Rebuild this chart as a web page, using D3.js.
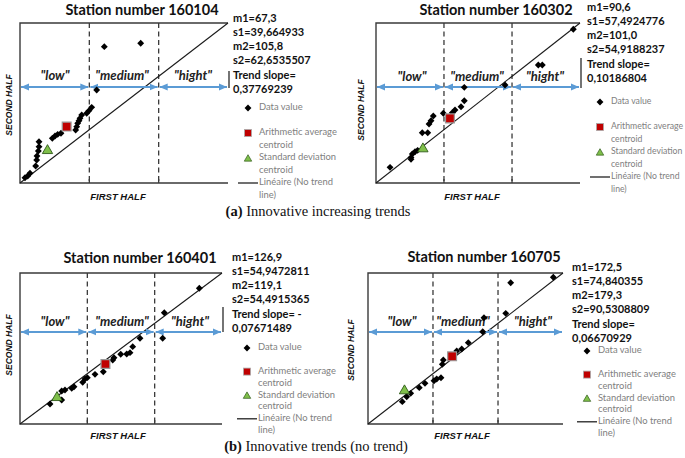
<!DOCTYPE html>
<html><head><meta charset="utf-8">
<script src="https://cdn.jsdelivr.net/npm/d3@7"></script>
<style>body{margin:0;background:#fff}svg{display:block}</style>
</head><body>
<svg id="c" width="685" height="458"></svg>
<script>
// ---------- DATA ----------
const stationTitles = ["Station number 160104","Station number 160302","Station number 160401","Station number 160705"];
const statsA = ["m1=67,3","s1=39,664933","m2=105,8","s2=62,6535507","Trend slope=","0,37769239"];
const statsB = ["m1=90,6","s1=57,4924776","m2=101,0","s2=54,9188237","Trend slope=","0,10186804"];
const statsC = ["m1=126,9","s1=54,9472811","m2=119,1","s2=54,4915365","Trend slope= -","0,07671489"];
const statsD = ["m1=172,5","s1=74,840355","m2=179,3","s2=90,5308809","Trend slope=","0,06670929"];
const zoneLabels = ['"low"','"medium"','"hight"'];
const legendLabels = ["Data value","Arithmetic average","centroid","Standard deviation","centroid","Linéaire (No trend","line)"];
const xAxisTitle = "FIRST HALF";
const yAxisTitle = "SECOND HALF";
const captions = [["(a)"," Innovative increasing trends"],["(b)"," Innovative trends (no trend)"]];

// axis maxima, class boundaries, arrow level
const domainMax = [300, 250, 300, 400];
const boundsA = [100, 200], boundsB = [83.3, 166.7], boundsC = [100, 200], boundsD = [133.3, 266.7];
const arrowLevel = [180, 150, 183, 244];

// centroids [x, y]
const meanA = [67.3, 105.8], sdA = [39.66, 62.65];
const meanB = [90.6, 101.0], sdB = [57.49, 54.92];
const meanC = [126.9, 119.1], sdC = [54.95, 54.49];
const meanD = [172.5, 179.3], sdD = [74.84, 90.53];

// data values [first half, second half]
const pointsA = [[121.6,255.6],[174.1,262],[110.6,174.4],[103.4,141.9],[99.5,135.6],[96.2,130.7],[89,127.5],
 [86.5,121.3],[85.1,116.8],[83.2,111.9],[81.8,105.6],[80.3,99.4],[59.1,93.2],[54.4,91.3],[50.5,88.1],
 [46.6,83.8],[27.4,77.4],[27.4,68.1],[26.4,60],[24.5,50.6],[24.1,43.1],[22.6,31.9],[14.4,18.2],[11.1,13.1],[7.2,9.9]];
const pointsB = [[241.8,240.2],[198.9,184.4],[203.8,184.4],[158.1,153.1],[108.2,149.5],[108.2,128.6],[104.2,119.2],
 [96.8,114.1],[93.5,109.8],[82.5,108.9],[70.2,104.7],[67.4,97.3],[65,92.2],[63.4,78.6],[56.7,78.6],
 [51,51],[47.8,48.9],[44.5,45.3],[42.9,40],[42.9,37],[17.2,24.5]];
const pointsC = [[266.3,269.6],[214.3,221.1],[211.9,170.3],[178.2,170.3],[167.4,153.6],[163.4,141.7],[158.5,139.1],
 [149.6,138.5],[139.6,131.7],[137.7,127.2],[123.7,103.9],[111.4,98.7],[100,92],[96.5,89.4],[93.1,82.8],
 [80.2,74.1],[76.8,70.9],[66.8,67.5],[61.9,65.6],[61.9,47.7],[44.6,39.7]];
const pointsD = [[380.1,388.6],[292.7,374.3],[282.5,293.2],[237.9,281.6],[235.3,244.5],[205.7,215.4],[192.2,198.7],
 [182,193.4],[154.5,169.5],[152.4,158.1],[149.7,122.6],[140.9,119.2],[135.4,114.7],[116.9,107.8],[105.2,96.2],
 [87.6,81.3],[79.4,72.3],[70.4,59.1]];

// ---------- LAYOUT ----------
const panels = [
 {title:stationTitles[0], stats:statsA, pts:pointsA, mean:meanA, sd:sdA, max:domainMax[0], bounds:boundsA, arrow:arrowLevel[0],
  box:{l:20,t:23,r:228,b:183}, titleX:142, titleY:11, statsX:233, statsY:19, legX:248, legY:108, legStep:12.5, legFont:9.4,
  labX:[55,122,193], labY:77, yLabX:10, yLabY:105, xLabX:118, xLabY:197, rSeg:[71,88]},
 {title:stationTitles[1], stats:statsB, pts:pointsB, mean:meanB, sd:sdB, max:domainMax[1], bounds:boundsB, arrow:arrowLevel[1],
  box:{l:376,t:23,r:580,b:183}, titleX:496, titleY:11, statsX:587, statsY:8, legX:600, legY:102, legStep:12.5, legFont:8.7,
  labX:[412,477,545], labY:78, yLabX:362, yLabY:110, xLabX:472, xLabY:197, rSeg:[58,88]},
 {title:stationTitles[2], stats:statsC, pts:pointsC, mean:meanC, sd:sdC, max:domainMax[2], bounds:boundsC, arrow:arrowLevel[2],
  box:{l:20,t:273,r:222,b:424}, titleX:140, titleY:259, statsX:232, statsY:258, legX:247, legY:348, legStep:11.8, legFont:9.4,
  labX:[55,122,190], labY:323, yLabX:10, yLabY:345, xLabX:118, xLabY:436, rSeg:[307,332]},
 {title:stationTitles[3], stats:statsD, pts:pointsD, mean:meanD, sd:sdD, max:domainMax[3], bounds:boundsD, arrow:arrowLevel[3],
  box:{l:368,t:273,r:563,b:424}, titleX:484, titleY:258, statsX:572, statsY:268, legX:587, legY:351, legStep:11.8, legFont:9.4,
  labX:[402,463,533], labY:323, yLabX:352, yLabY:350, xLabX:462, xLabY:436, rSeg:null}
];

const svg = d3.select("#c");
const blue = "#5b9bd5";
const defs = svg.append("defs");
defs.append("marker").attr("id","ah").attr("viewBox","0 0 8 8").attr("refX",8).attr("refY",4)
  .attr("markerWidth",8).attr("markerHeight",8).attr("markerUnits","userSpaceOnUse").attr("orient","auto-start-reverse")
  .append("path").attr("d","M0,0.5L8,4L0,7.5Z").attr("fill",blue);

const sansB = "Lato, 'Open Sans', sans-serif";
const diamond = d3.symbol(d3.symbolDiamond2, 30);
const square = d3.symbol(d3.symbolSquare, 78);
const tri = d3.symbol(d3.symbolTriangle, 46);

panels.forEach(p => {
  const g = svg.append("g");
  const x = d3.scaleLinear().domain([0,p.max]).range([p.box.l,p.box.r]);
  const y = d3.scaleLinear().domain([0,p.max]).range([p.box.b,p.box.t]);
  const B = p.box;
  g.append("path").attr("d",`M${B.r},${B.t}H${B.l}V${B.b}H${B.r}`).attr("fill","none").attr("stroke","#3a3a3a").attr("stroke-width",1.4);
  if (p.rSeg) g.append("line").attr("x1",B.r+1).attr("x2",B.r+1).attr("y1",p.rSeg[0]).attr("y2",p.rSeg[1]).attr("stroke","#3a3a3a").attr("stroke-width",1.4);
  g.selectAll(".dl").data(p.bounds).join("line").attr("x1",d=>x(d)).attr("x2",d=>x(d)).attr("y1",B.t).attr("y2",B.b)
    .attr("stroke","#3a3a3a").attr("stroke-width",1.3).attr("stroke-dasharray","5,3.5");
  g.selectAll(".tk").data(p.bounds).join("line").attr("x1",d=>x(d)).attr("x2",d=>x(d)).attr("y1",B.b).attr("y2",B.b-4)
    .attr("stroke","#3a3a3a").attr("stroke-width",1.3);
  g.append("line").attr("x1",x(0)).attr("y1",y(0)).attr("x2",x(p.max)).attr("y2",y(p.max)).attr("stroke","#1a1a1a").attr("stroke-width",1.1);
  const edges = [0, ...p.bounds, p.max];
  const ay = y(p.arrow);
  for (let i=0;i<3;i++){
    g.append("line").attr("x1",x(edges[i])+1).attr("x2",x(edges[i+1])-1).attr("y1",ay).attr("y2",ay)
      .attr("stroke",blue).attr("stroke-width",2).attr("marker-start","url(#ah)").attr("marker-end","url(#ah)");
  }
  zoneLabels.forEach((t,i)=>{
    g.append("text").attr("x",p.labX[i]).attr("y",p.labY).attr("text-anchor","middle").attr("dominant-baseline","middle")
      .attr("font-family",sansB).attr("font-weight","bold").attr("font-style","italic").attr("font-size",13).attr("fill","#222").text(t);
  });
  g.selectAll(".pt").data(p.pts).join("path").attr("d",diamond).attr("transform",d=>`translate(${x(d[0])},${y(d[1])})`).attr("fill","#000");
  g.append("path").attr("d",square).attr("transform",`translate(${x(p.mean[0])},${y(p.mean[1])})`).attr("fill","#c00000").attr("stroke","#9a9a9a").attr("stroke-width",1.2);
  g.append("path").attr("d",tri).attr("transform",`translate(${x(p.sd[0])},${y(p.sd[1])+1})`).attr("fill","#7fbf4a").attr("stroke","#2f5a1a").attr("stroke-width",0.9);
  g.append("text").attr("x",p.titleX).attr("y",p.titleY).attr("text-anchor","middle").attr("dominant-baseline","middle")
    .attr("font-family",sansB).attr("font-weight","bold").attr("font-size",14.5).attr("fill","#111").text(p.title);
  p.stats.forEach((t,i)=>{
    g.append("text").attr("x",p.statsX).attr("y",p.statsY+i*14.2).attr("dominant-baseline","middle")
      .attr("font-family",sansB).attr("font-weight","bold").attr("font-size",11).attr("fill","#111").text(t);
  });
  const lx = p.legX, ly = p.legY, st = p.legStep, tx = lx+11;
  const lt = (t,yy)=>g.append("text").attr("x",tx).attr("y",yy).attr("dominant-baseline","middle")
      .attr("font-family","Lato, sans-serif").attr("font-size",p.legFont).attr("fill","#808080").text(t);
  g.append("path").attr("d",diamond).attr("transform",`translate(${lx},${ly})`).attr("fill","#000");
  lt(legendLabels[0], ly);
  g.append("rect").attr("x",lx-3.5).attr("y",ly+2*st-3.5).attr("width",7).attr("height",7).attr("fill","#c00000").attr("stroke","#aaa").attr("stroke-width",0.8);
  lt(legendLabels[1], ly+2*st); lt(legendLabels[2], ly+3*st);
  g.append("path").attr("d",d3.symbol(d3.symbolTriangle,24)).attr("transform",`translate(${lx},${ly+4*st+1})`).attr("fill","#7fbf4a").attr("stroke","#2f5a1a").attr("stroke-width",0.7);
  lt(legendLabels[3], ly+4*st); lt(legendLabels[4], ly+5*st);
  g.append("line").attr("x1",lx-10).attr("x2",tx-1).attr("y1",ly+6*st).attr("y2",ly+6*st).attr("stroke","#222").attr("stroke-width",1.3);
  lt(legendLabels[5], ly+6*st); lt(legendLabels[6], ly+7*st);
  g.append("text").attr("transform",`translate(${p.yLabX},${p.yLabY}) rotate(-90)`).attr("text-anchor","middle").attr("dominant-baseline","middle")
    .attr("font-family","'Liberation Sans', Arial, sans-serif").attr("font-weight","bold").attr("font-style","italic").attr("font-size",8.5).attr("fill","#111").text(yAxisTitle);
  g.append("text").attr("x",p.xLabX).attr("y",p.xLabY).attr("text-anchor","middle").attr("dominant-baseline","middle")
    .attr("font-family","'Liberation Sans', Arial, sans-serif").attr("font-weight","bold").attr("font-style","italic").attr("font-size",9.5).attr("fill","#111").text(xAxisTitle);
});

[[318,213],[316,448]].forEach((pos,i)=>{
  const t = svg.append("text").attr("x",pos[0]).attr("y",pos[1]).attr("text-anchor","middle").attr("dominant-baseline","middle")
    .attr("font-family","'Liberation Serif', 'Times New Roman', serif").attr("font-size",14.5).attr("fill","#111");
  t.append("tspan").attr("font-weight","bold").text(captions[i][0]);
  t.append("tspan").text(captions[i][1]);
});
</script>
</body></html>
